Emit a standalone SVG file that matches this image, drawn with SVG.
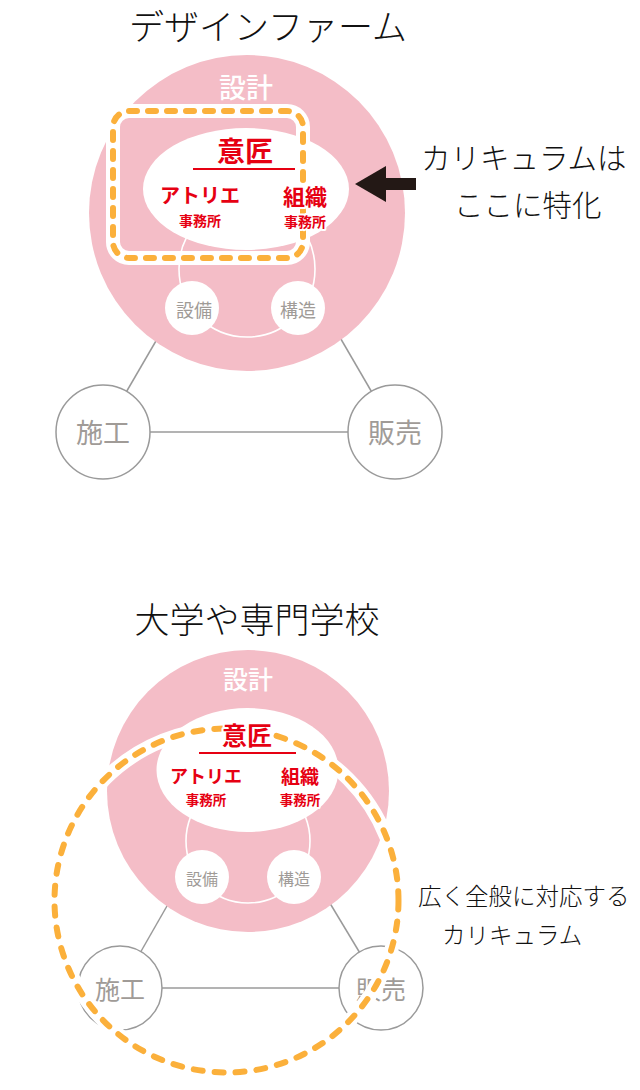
<svg xmlns="http://www.w3.org/2000/svg" width="640" height="1090" viewBox="0 0 640 1090">
<defs>
<style>
text{font-family:"Noto Sans CJK JP","Noto Sans",sans-serif;text-anchor:middle}
.title{font-size:35px;fill:#111;font-weight:300}
.note{fill:#111;font-weight:300;text-anchor:start}
.conn{stroke:#9a9a9a;stroke-width:1.5;fill:none}
.big{fill:#f4bdc7}
.ell{fill:#fff}
.ring{fill:none;stroke:#fff;stroke-width:1.6}
.sub{fill:#fff}
.outer{fill:#fff;stroke:#9a9a9a;stroke-width:1.5}
.glab{fill:#a09b97}
.wlab{fill:#fff;font-weight:500}
.red{fill:#e60012;font-weight:bold;stroke:#fff;stroke-width:4;paint-order:stroke;stroke-linejoin:round}
.uline{stroke:#e60012;stroke-width:2}
.halo{fill:none;stroke:#fff;stroke-width:14}
.dash{fill:none;stroke:#fbb03b;stroke-width:6;stroke-linecap:round}
</style>
</defs>
<rect width="640" height="1090" fill="#fff"/>

<!-- ===== Top diagram ===== -->
<text class="title" x="268" y="40">デザインファーム</text>

<g id="top-connectors">
<line class="conn" x1="103" y1="432" x2="160" y2="334"/>
<line class="conn" x1="395" y1="432" x2="338" y2="334"/>
<line class="conn" x1="103" y1="432" x2="395" y2="432"/>
</g>

<g id="top-sekkei">
<circle class="big" cx="247" cy="213" r="158"/>
<circle class="ring" cx="247" cy="269" r="68"/>
<text class="wlab" x="246" y="98" font-size="27">設計</text>
</g>

<g id="top-setsubi">
<circle class="sub" cx="192" cy="308" r="27"/>
<text class="glab" x="194" y="317" font-size="18">設備</text>
</g>
<g id="top-kouzou">
<circle class="sub" cx="298" cy="308" r="27"/>
<text class="glab" x="298" y="317" font-size="18">構造</text>
</g>

<g id="top-isho">
<ellipse class="ell" cx="246" cy="189" rx="103" ry="61"/>
</g>

<g id="top-focus">
<rect class="halo" x="113" y="111" width="190" height="147" rx="16"/>
<rect class="dash" x="113" y="111" width="190" height="147" rx="16" stroke-dasharray="8 11"/>
</g>

<g id="top-isho-labels">
<text class="red" x="245" y="162" font-size="28">意匠</text>
<line class="uline" x1="193" y1="169" x2="295" y2="169"/>
<text class="red" x="200" y="203" font-size="20">アトリエ</text>
<text class="red" x="200" y="226" font-size="14">事務所</text>
<text class="red" x="305" y="205" font-size="22">組織</text>
<text class="red" x="305" y="227" font-size="14">事務所</text>
</g>

<g id="top-sekou">
<circle class="outer" cx="103" cy="432" r="47"/>
<text class="glab" x="103" y="443" font-size="27">施工</text>
</g>
<g id="top-hanbai">
<circle class="outer" cx="395" cy="432" r="47"/>
<text class="glab" x="395" y="443" font-size="27">販売</text>
</g>

<g id="top-arrow">
<polygon points="355,184 386,166 386,202" fill="#231815"/>
<rect x="384" y="178" width="32" height="12" fill="#231815"/>
</g>
<g id="top-note">
<text class="note" x="421" y="169" font-size="29.5">カリキュラムは</text>
<text class="note" x="454" y="216" font-size="29.5">ここに特化</text>
</g>

<!-- ===== Bottom diagram ===== -->
<text class="title" x="257" y="633">大学や専門学校</text>

<g id="bot-connectors">
<line class="conn" x1="120" y1="988" x2="175" y2="892"/>
<line class="conn" x1="381" y1="988" x2="325" y2="895"/>
<line class="conn" x1="120" y1="988" x2="381" y2="988"/>
</g>

<g id="bot-sekkei">
<circle class="big" cx="248" cy="791" r="141"/>
<circle class="ring" cx="248" cy="841" r="62"/>
<text class="wlab" x="248" y="689" font-size="25">設計</text>
</g>

<g id="bot-setsubi">
<circle class="sub" cx="202" cy="877" r="27"/>
<text class="glab" x="202" y="885" font-size="16">設備</text>
</g>
<g id="bot-kouzou">
<circle class="sub" cx="294" cy="877" r="27"/>
<text class="glab" x="294" y="885" font-size="16">構造</text>
</g>

<g id="bot-isho">
<ellipse class="ell" cx="247.5" cy="770" rx="91" ry="62"/>
</g>

<g id="bot-sekou">
<circle class="outer" cx="120" cy="988" r="42"/>
<text class="glab" x="120" y="999" font-size="25">施工</text>
</g>
<g id="bot-hanbai">
<circle class="outer" cx="381" cy="988" r="42"/>
<text class="glab" x="381" y="999" font-size="25">販売</text>
</g>

<g id="bot-focus">
<circle class="halo" cx="226.5" cy="900.5" r="172" stroke-width="12"/>
<circle class="dash" cx="226.5" cy="900.5" r="172" stroke-dasharray="9 12"/>
</g>

<g id="bot-isho-labels">
<text class="red" x="247" y="745" font-size="25">意匠</text>
<line class="uline" x1="199" y1="753" x2="296" y2="753"/>
<text class="red" x="206" y="783" font-size="18">アトリエ</text>
<text class="red" x="206" y="805" font-size="13.5">事務所</text>
<text class="red" x="300" y="784" font-size="19">組織</text>
<text class="red" x="300" y="805" font-size="13.5">事務所</text>
</g>

<g id="bot-note">
<text class="note" x="418" y="905" font-size="23.5">広く全般に対応する</text>
<text class="note" x="442" y="944" font-size="23.5">カリキュラム</text>
</g>
</svg>
